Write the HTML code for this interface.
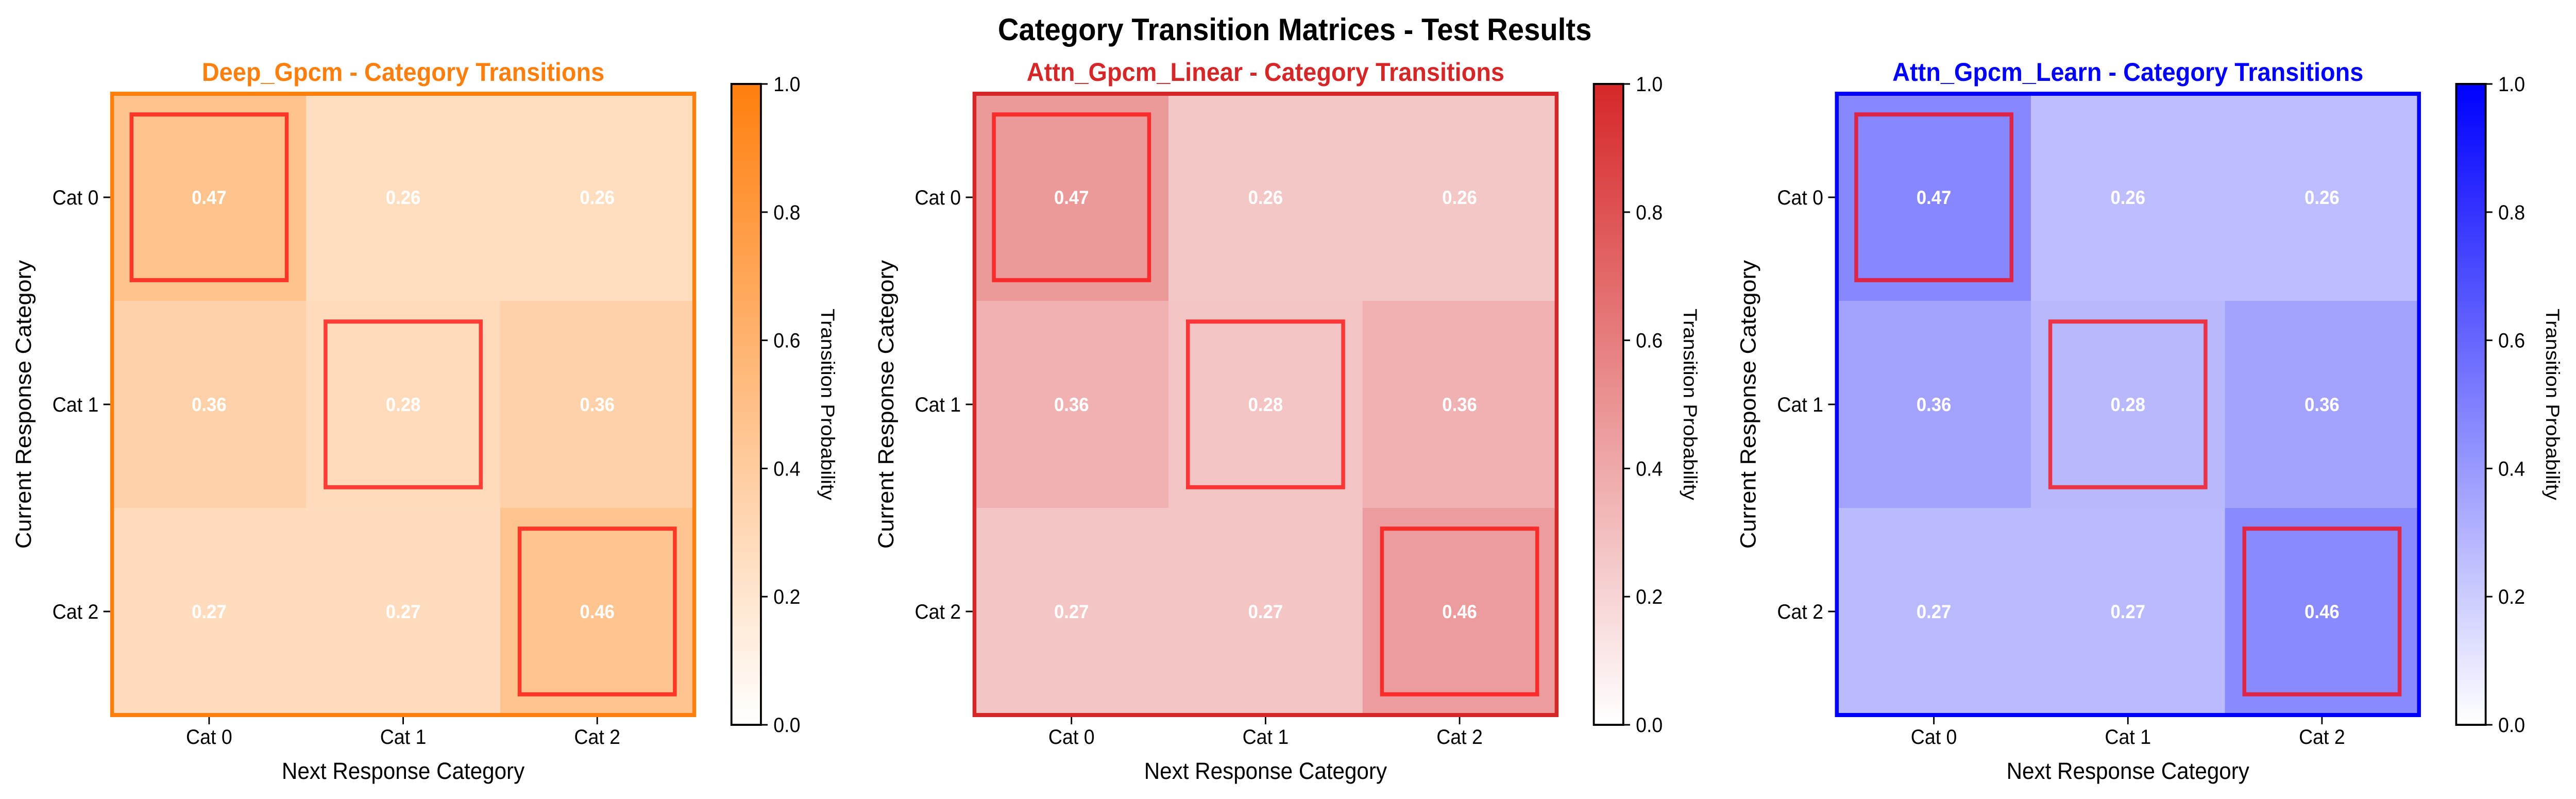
<!DOCTYPE html>
<html><head><meta charset="utf-8"><style>
html,body{margin:0;padding:0;background:#fff;overflow:hidden;width:100vw;height:100vh;}
svg{display:block;width:100vw;height:100vh;font-family:"Liberation Sans","DejaVu Sans",sans-serif;}
</style></head><body>
<svg id="fig" viewBox="0 0 5332 1551" preserveAspectRatio="none" xmlns="http://www.w3.org/2000/svg">
<rect width="5332" height="1551" fill="#fff"/>
<text x="2680" y="78" text-anchor="middle" font-size="60" font-weight="bold" fill="#000">Category Transition Matrices - Test Results</text>
</svg>
<script>
const categories = ["Cat 0", "Cat 1", "Cat 2"];
const models = ["Deep_Gpcm", "Attn_Gpcm_Linear", "Attn_Gpcm_Learn"];
const modelColors = ["#ff7f0e", "#d62728", "#0000ff"];
const matrixDeep = [[0.47,0.26,0.26],[0.36,0.28,0.36],[0.27,0.27,0.46]];
const matrixLinear = [[0.47,0.26,0.26],[0.36,0.28,0.36],[0.27,0.27,0.46]];
const matrixLearn = [[0.47,0.26,0.26],[0.36,0.28,0.36],[0.27,0.27,0.46]];
const cbTicks = [0.0,0.2,0.4,0.6,0.8,1.0];

const NS = "http://www.w3.org/2000/svg";
const svg = document.getElementById('fig');
function mk(tag, attrs, parent){ const e=document.createElementNS(NS,tag); for(const k in attrs) e.setAttribute(k,attrs[k]); (parent||svg).appendChild(e); return e; }
function hex(c){ return [parseInt(c.slice(1,3),16),parseInt(c.slice(3,5),16),parseInt(c.slice(5,7),16)]; }
function cmap(color,v){ const c=hex(color); return 'rgb('+c.map(x=>Math.round(255+(x-255)*v)).join(',')+')'; }

const matrices=[matrixDeep,matrixLinear,matrixLearn];
const panelLeft=[232,2017,3802];
const hmW=1205, hmTop=182, hmH=1206;
const nCat=categories.length;

models.forEach((name,p)=>{
  const L=panelLeft[p], col=modelColors[p], M=matrices[p];
  const cw=hmW/nCat, ch=hmH/nCat;
  const xS=j=>L+(j+0.5)*cw, yS=i=>hmTop+(i+0.5)*ch;
  const g=mk('g',{});
  
  
  const t=mk('text',{x:L+hmW/2,y:157,'text-anchor':'middle','font-size':50,'font-weight':'bold',fill:col},g);
  t.textContent=name+' - Category Transitions';
  
  
  M.forEach((row,i)=>row.forEach((v,j)=>{
    const r=mk('rect',{x:xS(j)-cw/2,y:yS(i)-ch/2,width:cw+0.5,height:ch+0.5,fill:cmap(col,v)},g);
    
    
    const tx=mk('text',{x:xS(j),y:yS(i)+13,'text-anchor':'middle','font-size':37,'font-weight':'bold',fill:'#fff'},g);
    tx.textContent=v.toFixed(2);
    
    
  }));
  for(let i=0;i<nCat;i++){
    const b=mk('rect',{x:xS(i)-0.4*cw,y:yS(i)-0.4*ch,width:0.8*cw,height:0.8*ch,fill:'none',stroke:'rgba(255,0,0,0.72)','stroke-width':8},g);
    
    
  }
  const fr=mk('rect',{x:L,y:hmTop,width:hmW,height:hmH,fill:'none',stroke:col,'stroke-width':8},g);
  
  
  categories.forEach((c,k)=>{
    mk('line',{x1:xS(k),x2:xS(k),y1:hmTop+hmH+4,y2:hmTop+hmH+18,stroke:'#000','stroke-width':3},g);
    const xl=mk('text',{x:xS(k),y:hmTop+hmH+56,'text-anchor':'middle','font-size':40,fill:'#000'},g);
    xl.textContent=c;
    
    
    mk('line',{x1:L-18,x2:L-4,y1:yS(k),y2:yS(k),stroke:'#000','stroke-width':3},g);
    const yl=mk('text',{x:L-28,y:yS(k)+14,'text-anchor':'end','font-size':40,fill:'#000'},g);
    yl.textContent=c;
    
    
  });
  const xt=mk('text',{x:L+hmW/2,y:1512,'text-anchor':'middle','font-size':45,fill:'#000'},g);
  xt.textContent='Next Response Category';
  
  
  const yt=mk('text',{x:0,y:0,'text-anchor':'middle','font-size':45,fill:'#000',transform:'translate('+(L-168)+','+(hmTop+hmH/2)+') rotate(-90)'},g);
  yt.textContent='Current Response Category';
  
  
  const cbx=L+1282, cby=163, cbw=61, cbh=1244;
  const gid='grad'+p;
  const defs=mk('defs',{},g);
  const lg=mk('linearGradient',{id:gid,x1:0,y1:1,x2:0,y2:0},defs);
  mk('stop',{offset:0,'stop-color':'#fff'},lg);
  mk('stop',{offset:1,'stop-color':col},lg);
  const cb=mk('rect',{x:cbx,y:cby,width:cbw,height:cbh,fill:'url(#'+gid+')',stroke:'#000','stroke-width':4},g);
  
  
  cbTicks.forEach(v=>{
    const y=cby+cbh*(1-v);
    mk('line',{x1:cbx+cbw,x2:cbx+cbw+14,y1:y,y2:y,stroke:'#000','stroke-width':3},g);
    const l=mk('text',{x:cbx+cbw+26,y:y+14,'font-size':40,fill:'#000'},g);
    l.textContent=v.toFixed(1);
    
    
  });
  const cl=mk('text',{x:0,y:0,'text-anchor':'middle','font-size':40,fill:'#000',transform:'translate('+(cbx+186)+','+(cby+cbh/2)+') rotate(90)'},g);
  cl.textContent='Transition Probability';
  
  
});
</script>
</body></html>
